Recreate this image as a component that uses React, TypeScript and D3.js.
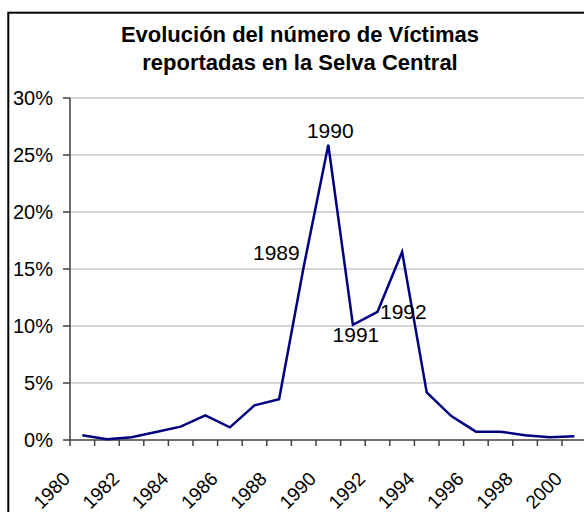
import React from "react";
import * as d3 from "d3";

const years: number[] = [1980,1981,1982,1983,1984,1985,1986,1987,1988,1989,1990,1991,1992,1993,1994,1995,1996,1997,1998,1999,2000];
const victimShare: number[] = [0.41,0.06,0.24,0.70,1.17,2.17,1.11,3.04,3.57,15.2,25.9,10.1,11.25,16.5,4.18,2.1,0.73,0.73,0.41,0.24,0.32];
const yTicks: number[] = [0,5,10,15,20,25,30];
const xTickLabels: number[] = [1980,1982,1984,1986,1988,1990,1992,1994,1996,1998,2000];
const labeledYears: number[] = [1989,1990,1991,1992];
const titleLines: string[] = ["Evolución del número de Víctimas","reportadas en la Selva Central"];

const FONT = "'Liberation Sans', Arial, Helvetica, sans-serif";

// label placement relative to its point: [dx, dy, anchor]
const labelPlacement: Record<number, [number, number, string]> = {
  1989: [-4, -14, "end"],
  1990: [2, -14, "middle"],
  1991: [3, 10, "middle"],
  1992: [2.5, 0, "start"],
};

export default function App() {
  const W = 584, H = 512;
  const left = 70, top = 98, bottom = 440;
  const step = 24.6;
  const x = d3.scaleBand<number>().domain(years).range([left, left + years.length * step]).padding(0);
  const y = d3.scaleLinear().domain([0, 30]).range([bottom, top]);
  const cx = (yr: number) => (x(yr) as number) + x.bandwidth() / 2;
  const line = d3.line<number>().x((_, i) => cx(years[i])).y((v) => y(v));
  const right = left + years.length * step;

  return (
    <svg width={W} height={H} style={{ position: "absolute", left: 0, top: 0, background: "#fff" }} fontFamily={FONT}>
      <rect x={0} y={0} width={W} height={H} fill="#fff" />
      <rect x={8.3} y={12.7} width={592} height={560} fill="none" stroke="#000" strokeWidth={2} />
      {titleLines.map((t, i) => (
        <text key={i} x={300} y={41.5 + i * 28} textAnchor="middle" fontSize={22} fontWeight="bold" fill="#000">{t}</text>
      ))}
      {/* gridlines */}
      {yTicks.filter((t) => t > 0).map((t) => (
        <line key={t} x1={left} x2={right} y1={y(t)} y2={y(t)} stroke="#c8c8c8" strokeWidth={1.5} />
      ))}
      {/* y axis */}
      <line x1={left} x2={left} y1={top} y2={bottom} stroke="#404040" strokeWidth={1.5} />
      {yTicks.map((t) => (
        <g key={t}>
          <line x1={left - 7} x2={left} y1={y(t)} y2={y(t)} stroke="#404040" strokeWidth={1.5} />
          <text x={53} y={y(t)} textAnchor="end" dominantBaseline="central" fontSize={20} fill="#000">{t}%</text>
        </g>
      ))}
      {/* x axis */}
      <line x1={left} x2={right} y1={bottom} y2={bottom} stroke="#404040" strokeWidth={1.5} />
      {years.map((yr) => (
        <line key={yr} x1={x(yr) as number} x2={x(yr) as number} y1={bottom} y2={bottom + 6} stroke="#404040" strokeWidth={1.5} />
      ))}
      {xTickLabels.map((yr) => {
        const ax = cx(yr) - 11;
        const ay = bottom + 40;
        return (
          <text key={yr} x={ax} y={ay} textAnchor="end" fontSize={19} fill="#000" transform={`rotate(-45 ${ax} ${ay})`}>{yr}</text>
        );
      })}
      {/* series */}
      <path d={line(victimShare) || ""} fill="none" stroke="#000080" strokeWidth={2.5} strokeLinejoin="miter" />
      {labeledYears.map((yr) => {
        const i = years.indexOf(yr);
        const [dx, dy, anchor] = labelPlacement[yr];
        return (
          <text key={yr} x={cx(yr) + dx} y={y(victimShare[i]) + dy} textAnchor={anchor as any} dominantBaseline="central" fontSize={21} fill="#000">{yr}</text>
        );
      })}
    </svg>
  );
}
